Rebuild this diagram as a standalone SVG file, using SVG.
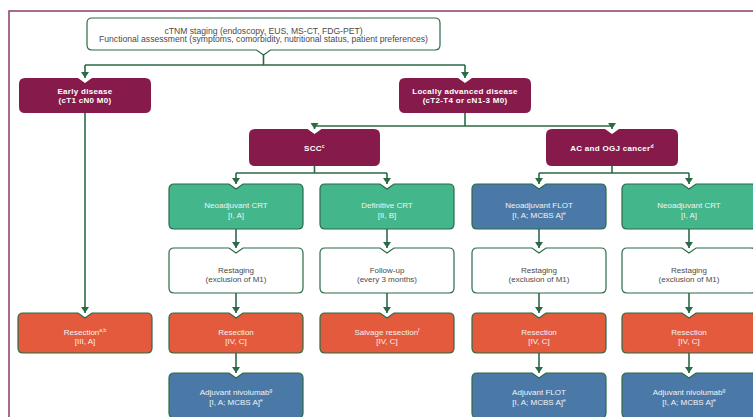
<svg xmlns="http://www.w3.org/2000/svg" xmlns:xlink="http://www.w3.org/1999/xlink" width="753" height="417" viewBox="0 0 753 417">
<style>
text{font-family:"Liberation Sans",Arial,sans-serif;font-size:8px;text-anchor:middle}
.dark{fill:#4a4a4a}
.top{font-size:8.6px}
.lt{fill:#f3f3f3}
.bd{fill:#ffffff;font-weight:bold;letter-spacing:0.3px}
.sup{font-size:5px}
.maroon{fill:#861a4b}
.teal{fill:#44b68c;stroke:#2b6a47;stroke-width:1.2}
.blue{fill:#4a79a8;stroke:#2b6a47;stroke-width:1.2}
.red{fill:#e35a3d;stroke:#2b6a47;stroke-width:1.2}
.white{fill:#ffffff;stroke:#2b6a47;stroke-width:1.2}
.conn path{fill:none;stroke:#2b6a47;stroke-width:1.6}
.conn path.a{marker-end:url(#ah)}
</style>
<defs>
<marker id="ah" viewBox="0 0 6 8" refX="6" refY="4" markerWidth="6" markerHeight="8" markerUnits="userSpaceOnUse" orient="auto"><path d="M0,0 L6,4 L0,8 Z" fill="#2b6a47"/></marker>
<path id="b45" d="M5,0 H60 L67,5 L74,0 H129 Q134,0 134,5 V40 Q134,45 129,45 H5 Q0,45 0,40 V5 Q0,0 5,0 Z"/>
<path id="b40" d="M5,0 H60 L67,5 L74,0 H129 Q134,0 134,5 V35 Q134,40 129,40 H5 Q0,40 0,35 V5 Q0,0 5,0 Z"/>
</defs>
<rect width="753" height="417" fill="#ffffff"/>
<path d="M9,417 V11 H753" fill="none" stroke="#8c3b6c" stroke-width="1.5"/>

<g class="conn">
<path d="M263.5,55 V65 M85,65 H465"/>
<path class="a" d="M85,65 V78"/>
<path class="a" d="M465,65 V78"/>
<path class="a" d="M85,113 V313"/>
<path d="M465,113 V126 M314.5,126 H612"/>
<path class="a" d="M314.5,126 V129"/>
<path class="a" d="M612,126 V129"/>
<path d="M314.5,166 V173 M236,173 H387 M612,166 V173 M539,173 H689"/>
<path class="a" d="M236,173 V184"/>
<path class="a" d="M387,173 V184"/>
<path class="a" d="M539,173 V184"/>
<path class="a" d="M689,173 V184"/>
<path class="a" d="M236,229 V248"/>
<path class="a" d="M387,229 V248"/>
<path class="a" d="M539,229 V248"/>
<path class="a" d="M689,229 V248"/>
<path class="a" d="M236,293 V313"/>
<path class="a" d="M387,293 V313"/>
<path class="a" d="M539,293 V313"/>
<path class="a" d="M689,293 V313"/>
<path class="a" d="M236,353 V373"/>
<path class="a" d="M539,353 V373"/>
<path class="a" d="M689,353 V373"/>
</g>

<g id="staging">
<path class="white" d="M92,18 H435 Q440,18 440,23 V45 Q440,50 435,50 H270.5 L263.5,55 L256.5,50 H92 Q87,50 87,45 V23 Q87,18 92,18 Z"/>
<text class="dark top" x="263.5" y="33.5">cTNM staging (endoscopy, EUS, MS-CT, FDG-PET)</text>
<text class="dark top" x="263.5" y="42">Functional assessment (symptoms, comorbidity, nutritional status, patient preferences)</text>
</g>

<g id="early">
<path class="maroon" d="M25,78 H78 L85,83 L92,78 H145 Q151,78 151,84 V107 Q151,113 145,113 H25 Q19,113 19,107 V84 Q19,78 25,78 Z"/>
<text class="bd" x="85" y="94">Early disease</text>
<text class="bd" x="85" y="102.5">(cT1 cN0 M0)</text>
</g>

<g id="locally">
<path class="maroon" d="M405,78 H458 L465,83 L472,78 H525 Q531,78 531,84 V107 Q531,113 525,113 H405 Q399,113 399,107 V84 Q399,78 405,78 Z"/>
<text class="bd" x="465" y="94">Locally advanced disease</text>
<text class="bd" x="465" y="102.5">(cT2-T4 or cN1-3 M0)</text>
</g>

<g id="scc">
<path class="maroon" d="M255,129 H307.5 L314.5,134 L321.5,129 H374 Q380,129 380,135 V160 Q380,166 374,166 H255 Q249,166 249,160 V135 Q249,129 255,129 Z"/>
<text class="bd" x="314.5" y="151">SCC<tspan class="sup" dy="-3">c</tspan></text>
</g>

<g id="ac">
<path class="maroon" d="M552,129 H605 L612,134 L619,129 H672 Q678,129 678,135 V160 Q678,166 672,166 H552 Q546,166 546,160 V135 Q546,129 552,129 Z"/>
<text class="bd" x="612" y="151">AC and OGJ cancer<tspan class="sup" dy="-3">d</tspan></text>
</g>

<g id="scc-neo-crt">
<use href="#b45" class="teal" x="169" y="184"/>
<text class="lt" x="236" y="208">Neoadjuvant CRT</text>
<text class="lt" x="236" y="217.5">[I, A]</text>
</g>
<g id="def-crt">
<use href="#b45" class="teal" x="320" y="184"/>
<text class="lt" x="387" y="208">Definitive CRT</text>
<text class="lt" x="387" y="217.5">[II, B]</text>
</g>
<g id="neo-flot">
<use href="#b45" class="blue" x="472" y="184"/>
<text class="lt" x="539" y="208">Neoadjuvant FLOT</text>
<text class="lt" x="539" y="217.5">[I, A; MCBS A]<tspan class="sup" dy="-3">e</tspan></text>
</g>
<g id="ac-neo-crt">
<use href="#b45" class="teal" x="622" y="184"/>
<text class="lt" x="689" y="208">Neoadjuvant CRT</text>
<text class="lt" x="689" y="217.5">[I, A]</text>
</g>

<g id="restage-a">
<use href="#b45" class="white" x="169" y="248"/>
<text class="dark" x="236" y="272.5">Restaging</text>
<text class="dark" x="236" y="281.5">(exclusion of M1)</text>
</g>
<g id="followup">
<use href="#b45" class="white" x="320" y="248"/>
<text class="dark" x="387" y="272.5">Follow-up</text>
<text class="dark" x="387" y="281.5">(every 3 months)</text>
</g>
<g id="restage-c">
<use href="#b45" class="white" x="472" y="248"/>
<text class="dark" x="539" y="272.5">Restaging</text>
<text class="dark" x="539" y="281.5">(exclusion of M1)</text>
</g>
<g id="restage-d">
<use href="#b45" class="white" x="622" y="248"/>
<text class="dark" x="689" y="272.5">Restaging</text>
<text class="dark" x="689" y="281.5">(exclusion of M1)</text>
</g>

<g id="resection-early">
<use href="#b40" class="red" x="18" y="313"/>
<text class="lt" x="85" y="334.5">Resection<tspan class="sup" dy="-3">a,b</tspan></text>
<text class="lt" x="85" y="344">[III, A]</text>
</g>
<g id="resection-a">
<use href="#b40" class="red" x="169" y="313"/>
<text class="lt" x="236" y="334.5">Resection</text>
<text class="lt" x="236" y="344">[IV, C]</text>
</g>
<g id="salvage">
<use href="#b40" class="red" x="320" y="313"/>
<text class="lt" x="387" y="334.5">Salvage resection<tspan class="sup" dy="-3">f</tspan></text>
<text class="lt" x="387" y="344">[IV, C]</text>
</g>
<g id="resection-c">
<use href="#b40" class="red" x="472" y="313"/>
<text class="lt" x="539" y="334.5">Resection</text>
<text class="lt" x="539" y="344">[IV, C]</text>
</g>
<g id="resection-d">
<use href="#b40" class="red" x="622" y="313"/>
<text class="lt" x="689" y="334.5">Resection</text>
<text class="lt" x="689" y="344">[IV, C]</text>
</g>

<g id="adj-nivo-a">
<use href="#b45" class="blue" x="169" y="373"/>
<text class="lt" x="236" y="394.5">Adjuvant nivolumab<tspan class="sup" dy="-3">g</tspan></text>
<text class="lt" x="236" y="404.5">[I, A; MCBS A]<tspan class="sup" dy="-3">e</tspan></text>
</g>
<g id="adj-flot">
<use href="#b45" class="blue" x="472" y="373"/>
<text class="lt" x="539" y="394.5">Adjuvant FLOT</text>
<text class="lt" x="539" y="404.5">[I, A; MCBS A]<tspan class="sup" dy="-3">e</tspan></text>
</g>
<g id="adj-nivo-d">
<use href="#b45" class="blue" x="622" y="373"/>
<text class="lt" x="689" y="394.5">Adjuvant nivolumab<tspan class="sup" dy="-3">g</tspan></text>
<text class="lt" x="689" y="404.5">[I, A; MCBS A]<tspan class="sup" dy="-3">e</tspan></text>
</g>
</svg>
